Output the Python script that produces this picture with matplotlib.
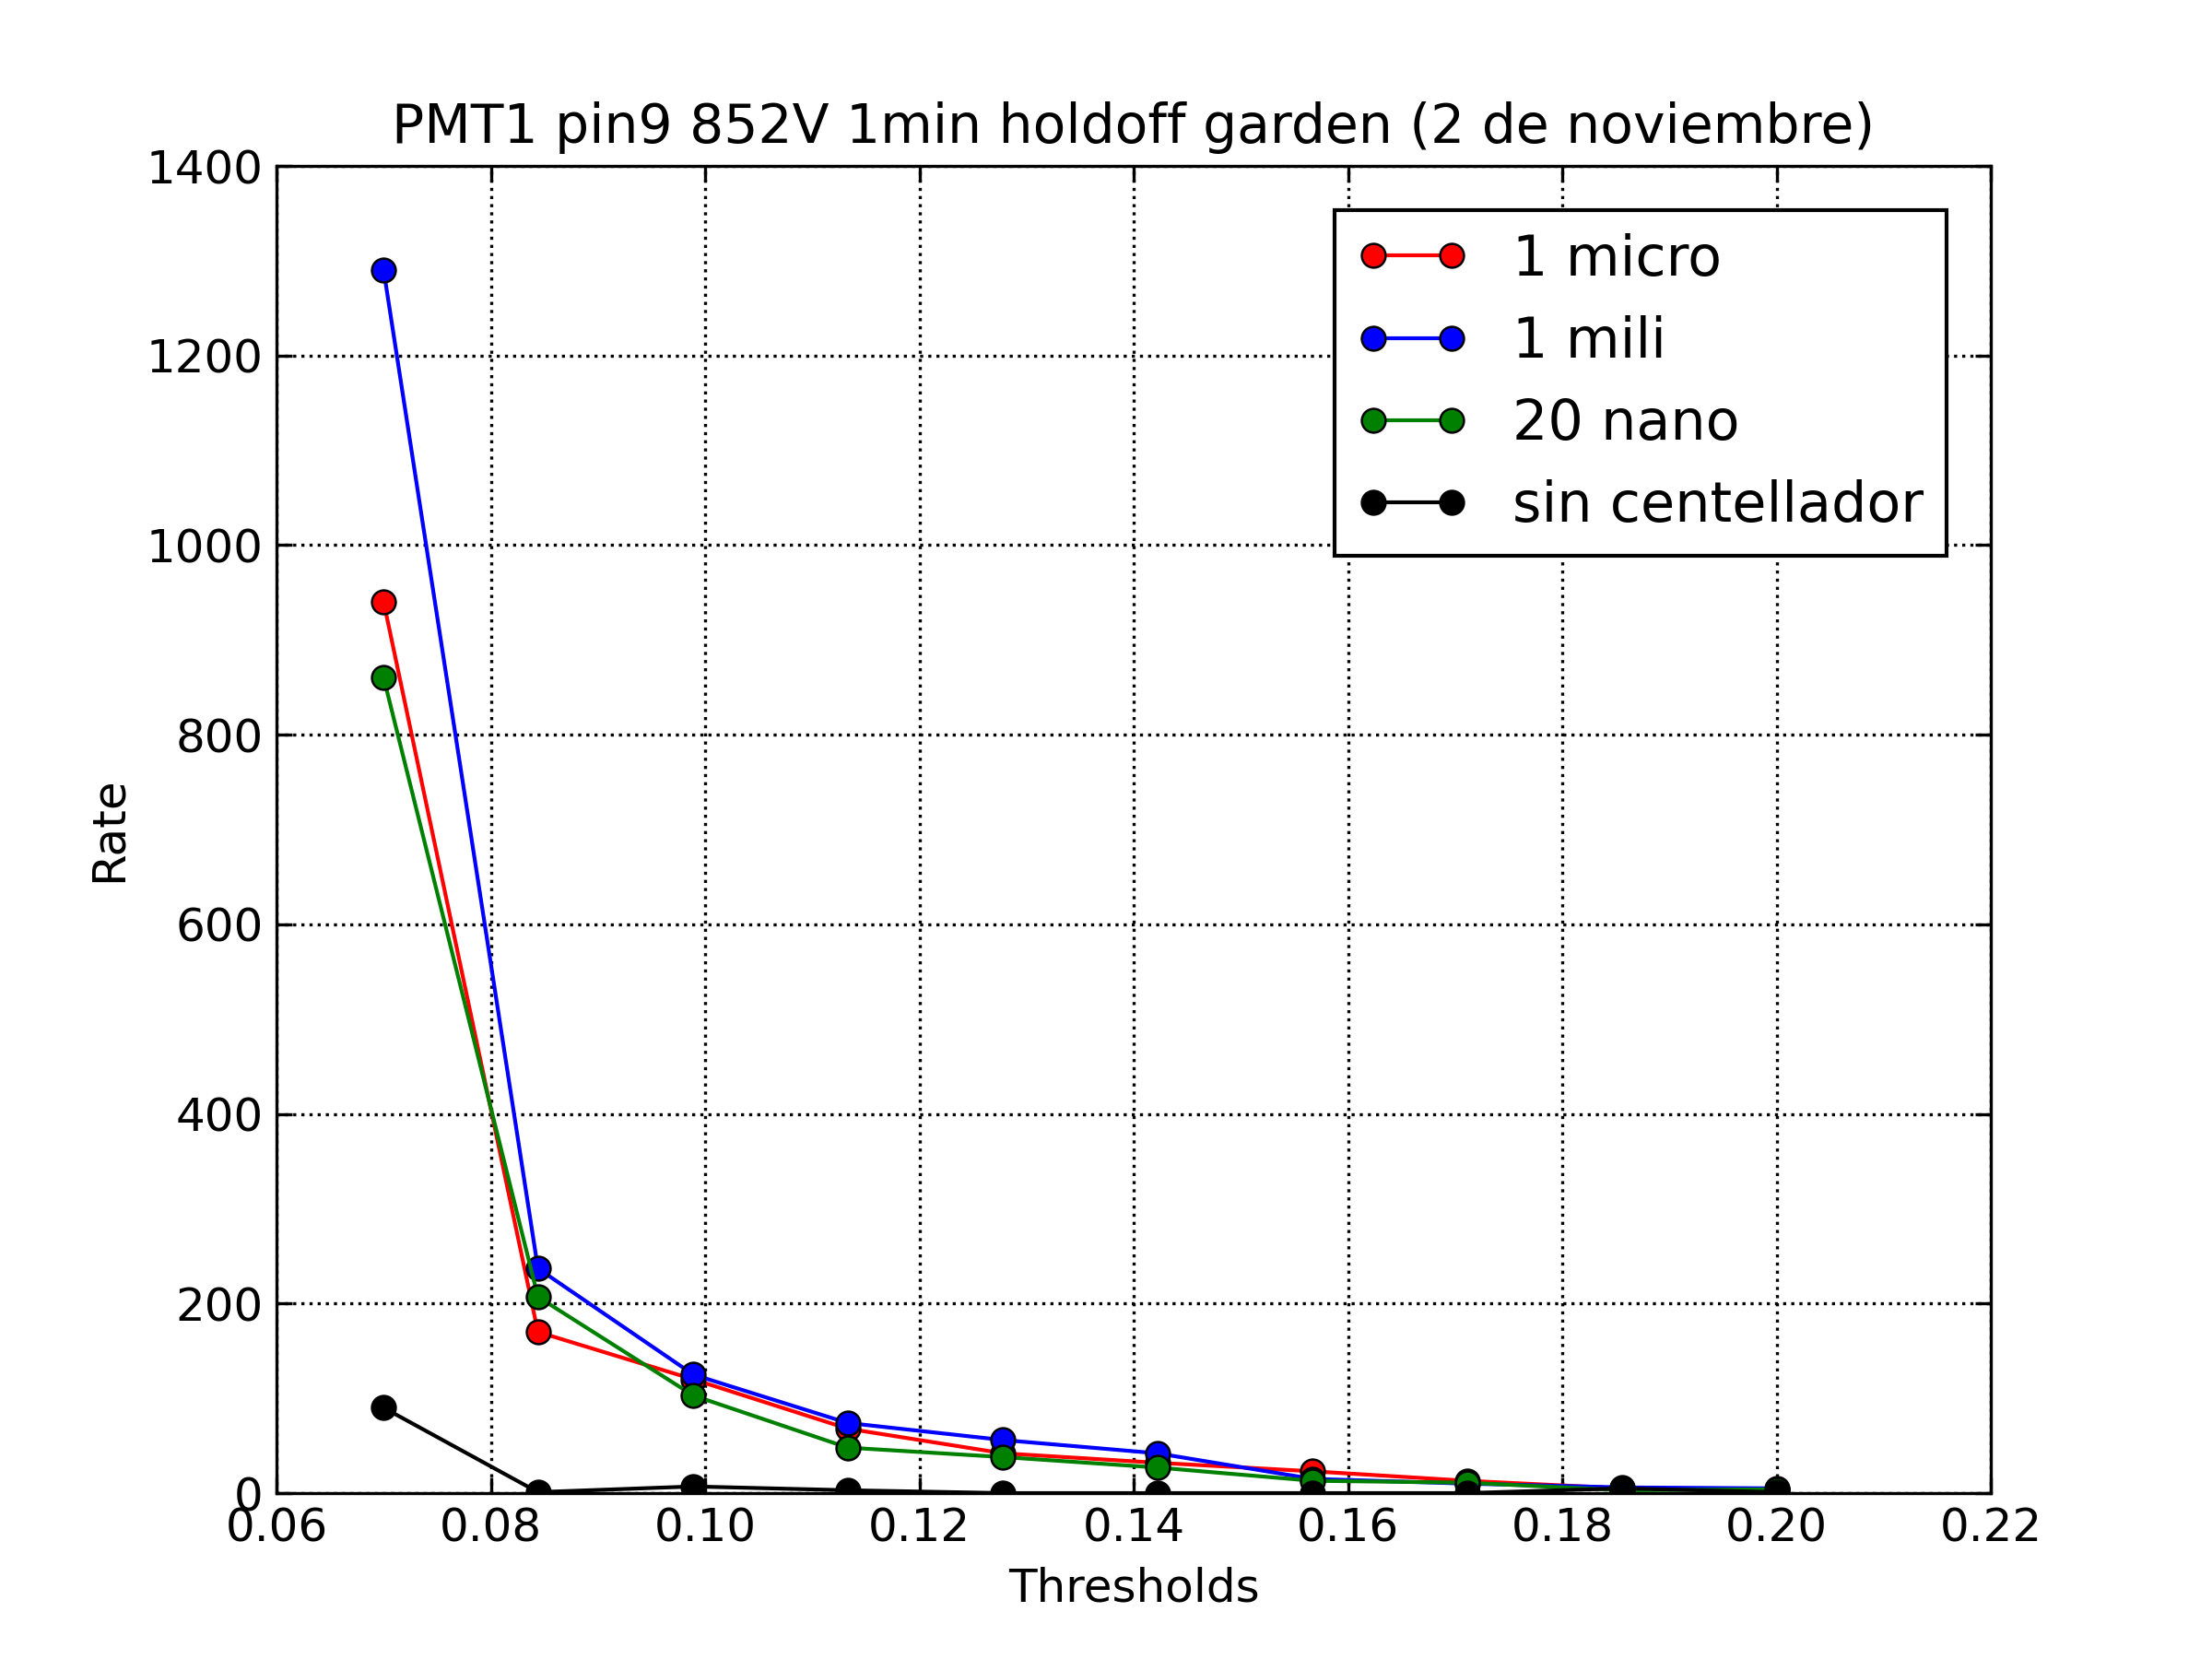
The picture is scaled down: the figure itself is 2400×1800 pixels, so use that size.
import matplotlib
matplotlib.use("Agg")
import matplotlib.pyplot as plt

thresholds = [0.0700, 0.0844, 0.0989, 0.1133, 0.1278, 0.1422, 0.1567, 0.1711, 0.1856, 0.2000]
rate_micro = [940, 170, 120, 68, 42, 32, 23, 13, 5, 3]
rate_mili = [1290, 237, 125, 74, 56, 42, 15, 10, 6, 5]
rate_nano = [860, 207, 103, 48, 38, 27, 13, 11, 3, 4]
rate_sin = [90, 1, 7, 3, 0, 0, 0, 0, 5, 1]

series = [
    (rate_micro, "r", "1 micro"),
    (rate_mili, "b", "1 mili"),
    (rate_nano, "g", "20 nano"),
    (rate_sin, "k", "sin centellador"),
]

plt.rcParams["xtick.direction"] = "in"
plt.rcParams["ytick.direction"] = "in"
plt.rcParams["xtick.top"] = True
plt.rcParams["ytick.right"] = True

figure = plt.figure(figsize=(8, 6), dpi=300)
axes = figure.add_axes([0.125, 0.1, 0.775, 0.8])

for values, colour, label in series:
    axes.plot(thresholds, values, "-o", color=colour, markerfacecolor=colour,
              markeredgecolor="k", markeredgewidth=0.6, markersize=6.2,
              linewidth=1.0, label=label)

axes.set_xlim(0.06, 0.22)
axes.set_ylim(0, 1400)
axes.set_xticks([0.06, 0.08, 0.10, 0.12, 0.14, 0.16, 0.18, 0.20, 0.22])
axes.tick_params(labelsize=12, length=4)
axes.grid(True, color="k", linestyle=":", linewidth=0.8)
axes.set_xlabel("Thresholds", fontsize=12)
axes.set_ylabel("Rate", fontsize=12)
axes.set_title("PMT1 pin9 852V 1min holdoff garden (2 de noviembre)", fontsize=14)
legend = axes.legend(loc="upper right", fontsize=14.5, numpoints=2, fancybox=False,
                     framealpha=1, edgecolor="k", borderaxespad=0.8)
legend.get_frame().set_linewidth(1.0)

plt.savefig("out.png", dpi=300)
plt.close()
